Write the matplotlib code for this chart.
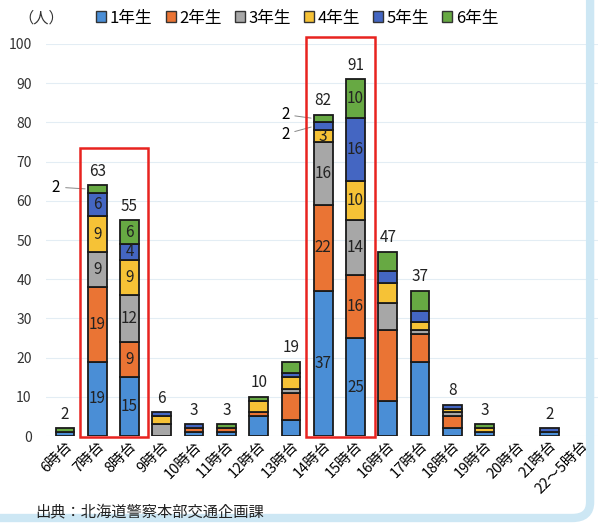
import matplotlib
matplotlib.use("Agg")
import matplotlib.pyplot as plt
from matplotlib.patches import Rectangle, Patch, FancyBboxPatch
import numpy as np

plt.rcParams['font.family'] = ['Noto Sans CJK JP', 'DejaVu Sans']

# 時間帯
cats = ['6時台', '7時台', '8時台', '9時台', '10時台', '11時台', '12時台', '13時台',
        '14時台', '15時台', '16時台', '17時台', '18時台', '19時台', '20時台', '21時台',
        '22～5時台']
grades = ['1年生', '2年生', '3年生', '4年生', '5年生', '6年生']

# 学年別の人数
g1 = [1, 19, 15, 0, 1, 1, 5, 4, 37, 25, 9, 19, 2, 1, 0, 1, 0]
g2 = [0, 19, 9, 0, 1, 1, 1, 7, 22, 16, 18, 7, 3, 0, 0, 0, 0]
g3 = [0, 9, 12, 3, 0, 0, 0, 1, 16, 14, 7, 1, 1, 0, 0, 0, 0]
g4 = [0, 9, 9, 2, 0, 0, 3, 3, 3, 10, 5, 2, 1, 1, 0, 0, 0]
g5 = [0, 6, 4, 1, 1, 0, 0, 1, 2, 16, 3, 3, 1, 0, 0, 1, 0]
g6 = [1, 2, 6, 0, 0, 1, 1, 3, 2, 10, 5, 5, 0, 1, 0, 0, 0]
totals = [2, 63, 55, 6, 3, 3, 10, 19, 82, 91, 47, 37, 8, 3, 0, 2, 0]

colors = ['#4a8ed6', '#ea7434', '#a7a7a7', '#f6c236', '#4466c2', '#67a943']
series = [g1, g2, g3, g4, g5, g6]

# segments labelled inside the bar (index -> list of grade idx)
inside = {1: [0, 1, 2, 3, 4], 2: [0, 1, 2, 3, 4, 5], 8: [0, 1, 2, 3], 9: [0, 1, 2, 3, 4, 5]}

fig = plt.figure(figsize=(5.98, 5.26), dpi=100)
fig.patch.set_facecolor('white')
ax = fig.add_axes([45.6 / 598, 90 / 526, 552 / 598, 392 / 526])

x = np.arange(len(cats))
w = 0.58
bottom = np.zeros(len(cats))
for i, s in enumerate(series):
    s = np.array(s)
    nz = s > 0
    ax.bar(x[nz], s[nz], w, bottom=bottom[nz], color=colors[i], edgecolor='#1a1a1a',
           linewidth=1.3, zorder=3)
    for j in range(len(cats)):
        if j in inside and i in inside[j]:
            ax.text(x[j], bottom[j] + s[j] / 2, str(s[j]), ha='center', va='center',
                    fontsize=11, color='#222222', zorder=4)
    bottom += s

for j, t in enumerate(totals):
    if t > 0:
        ax.annotate(str(t), (x[j], bottom[j]), xytext=(0, 4), textcoords='offset points',
                    ha='center', va='bottom', fontsize=11, color='#222222')

# leader labels
ax.annotate('2', (1 - w / 2, 63), xytext=(-0.15, 63.5), ha='right', va='center', fontsize=11,
            arrowprops=dict(arrowstyle='-', color='#888888', lw=0.7))
ax.annotate('2', (8 - w / 2, 81), xytext=(6.95, 82), ha='right', va='center', fontsize=11,
            arrowprops=dict(arrowstyle='-', color='#888888', lw=0.7))
ax.annotate('2', (8 - w / 2, 79), xytext=(6.95, 77), ha='right', va='center', fontsize=11,
            arrowprops=dict(arrowstyle='-', color='#888888', lw=0.7))

# red boxes
for x0, x1, top in [(0.46, 2.57, 73.5), (7.46, 9.6, 101.8)]:
    ax.add_patch(Rectangle((x0, -0.3), x1 - x0, top + 0.3, fill=False, edgecolor='#e8231f',
                           linewidth=1.8, clip_on=False, zorder=5))

ax.set_xlim(-0.6, 16.5)
ax.set_ylim(0, 100)
ax.set_yticks(np.arange(0, 101, 10))
ax.tick_params(axis='y', length=0, pad=10, labelsize=10, labelcolor='#333333')
ax.tick_params(axis='x', length=0, pad=2)
ax.set_xticks(x)
ax.set_xticklabels(cats, rotation=45, ha='right', rotation_mode='anchor', fontsize=10.5)
ax.grid(axis='y', color='#e3edf4', linewidth=0.8, zorder=0)
for sp in ax.spines.values():
    sp.set_visible(False)

fig.text(18 / 598, 1 - 18 / 526, '（人）', ha='left', va='center', fontsize=11, color='#333333')
handles = [Patch(facecolor=c, edgecolor='#333333', linewidth=1) for c in colors]
fig.legend(handles, grades, loc='center left', bbox_to_anchor=(88 / 598, 1 - 18 / 526), ncol=6,
           frameon=False, fontsize=12, handlelength=0.6, handleheight=0.6, handletextpad=0.2,
           columnspacing=0.8, borderpad=0)

fig.text(35 / 598, 1 - 512 / 526, '出典：北海道警察本部交通企画課', ha='left', va='center',
         fontsize=11, color='#222222')

# light blue frame at right/bottom
fig.patches.append(FancyBboxPatch((-0.05, 8 / 526), (590 + 30) / 598, 1.1,
                                  boxstyle='round,pad=0,rounding_size=0.03',
                                  transform=fig.transFigure, fill=False,
                                  edgecolor='#cde7f4', linewidth=6, zorder=0))

fig.savefig('out.png', dpi=100)
